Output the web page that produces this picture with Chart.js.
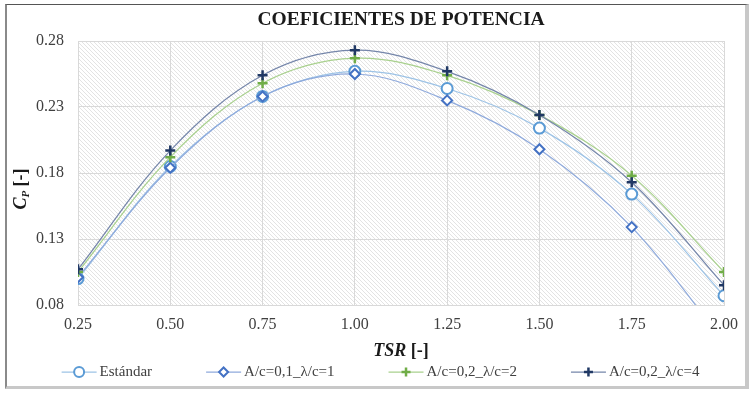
<!DOCTYPE html>
<html lang="es">
<head>
<meta charset="utf-8">
<title>Coeficientes de potencia</title>
<script src="https://cdn.jsdelivr.net/npm/chart.js@4.4.1/dist/chart.umd.min.js"></script>
<style>
  html, body { margin: 0; padding: 0; background: #fff; }
  #wrap { position: relative; width: 755px; height: 393px; }
  #frame {
    position: absolute; left: 5px; top: 4px; width: 738px; height: 381px;
    border-left: 2px solid #8a8a8a; border-top: 1px solid #555;
    border-right: 4px solid #c8c8c8; border-bottom: 3px solid #c8c8c8;
    pointer-events: none;
  }
</style>
</head>
<body>
<div id="wrap">
  <canvas id="cpChart" width="755" height="393"></canvas>
  <div id="frame"></div>
</div>
<script>
// datos
const tsr = [0.25, 0.50, 0.75, 1.00, 1.25, 1.50, 1.75, 2.00];
const estandar = [0.100, 0.185, 0.238, 0.257, 0.244, 0.214, 0.164, 0.087];
const ac01_l1 = [0.101, 0.184, 0.238, 0.255, 0.235, 0.198, 0.139, 0.052];
const ac02_l2 = [0.105, 0.192, 0.248, 0.267, 0.254, 0.224, 0.178, 0.105];
const ac02_l4 = [0.107, 0.197, 0.254, 0.273, 0.257, 0.224, 0.173, 0.095];

const xTicks = [0.25, 0.50, 0.75, 1.00, 1.25, 1.50, 1.75, 2.00];
const yTicks = [0.08, 0.13, 0.18, 0.23, 0.28];

const SERIF = '"Liberation Serif", "Times New Roman", serif';
const pts = (ys) => tsr.map((x, i) => ({ x, y: ys[i] }));

// fondo rayado del area de trazado
function hatch(ctx) {
  const s = 4;
  const c = document.createElement('canvas');
  c.width = s; c.height = s;
  const g = c.getContext('2d');
  g.strokeStyle = '#e3e3e3';
  g.lineWidth = 1;
  g.beginPath();
  for (let k = -1; k <= 1; k++) { g.moveTo(k * s, 0); g.lineTo(k * s + s, s); }
  g.stroke();
  return ctx.createPattern(c, 'repeat');
}

const decor = {
  id: 'decor',
  beforeDraw(chart) {
    const { ctx, chartArea: a } = chart;
    ctx.save();
    ctx.fillStyle = hatch(ctx);
    ctx.fillRect(a.left, a.top, a.right - a.left, a.bottom - a.top);
    ctx.restore();
  },
  afterDraw(chart) {
    const { ctx, chartArea: a } = chart;
    ctx.save();
    ctx.fillStyle = '#1a1a1a';

    // titulo eje Y: C_P [-]
    ctx.translate(a.left - 58, (a.top + a.bottom) / 2 + 16);
    ctx.rotate(-Math.PI / 2);
    ctx.textBaseline = 'alphabetic';
    ctx.font = 'italic bold 18px ' + SERIF;
    const wC = ctx.measureText('C').width;
    ctx.font = 'italic bold 11px ' + SERIF;
    const wP = ctx.measureText('P').width;
    ctx.font = 'bold 18px ' + SERIF;
    const wR = ctx.measureText(' [-]').width;
    let x0 = -(wC + wP + wR) / 2;
    ctx.font = 'italic bold 18px ' + SERIF;
    ctx.fillText('C', x0, 6);
    ctx.font = 'italic bold 11px ' + SERIF;
    ctx.fillText('P', x0 + wC, 9);
    ctx.font = 'bold 18px ' + SERIF;
    ctx.fillText(' [-]', x0 + wC + wP, 6);
    ctx.setTransform(1, 0, 0, 1, 0, 0);

    // titulo eje X: TSR [-]
    ctx.textBaseline = 'middle';
    ctx.font = 'italic bold 18px ' + SERIF;
    const wT = ctx.measureText('TSR').width;
    ctx.font = 'bold 18px ' + SERIF;
    const wB = ctx.measureText(' [-]').width;
    let xt = (a.left + a.right) / 2 - (wT + wB) / 2;
    ctx.font = 'italic bold 18px ' + SERIF;
    ctx.fillText('TSR', xt, 351);
    ctx.font = 'bold 18px ' + SERIF;
    ctx.fillText(' [-]', xt + wT, 351);

    // leyenda
    const lineLen = 35, gap = 3, spacing = 54, ly = 372;
    ctx.font = '15px ' + SERIF;
    const sets = chart.data.datasets;
    const widths = sets.map(d => lineLen + gap + ctx.measureText(d.label).width);
    const total = widths.reduce((s, w) => s + w, 0) + spacing * (sets.length - 1);
    let lx = chart.width / 2 - total / 2 + 3;
    sets.forEach((d, i) => {
      ctx.strokeStyle = d.borderColor;
      ctx.lineWidth = 1.25;
      ctx.beginPath();
      ctx.moveTo(lx, ly); ctx.lineTo(lx + lineLen, ly);
      ctx.stroke();
      ctx.fillStyle = d.pointBackgroundColor;
      ctx.strokeStyle = d.pointBorderColor;
      ctx.lineWidth = d.pointBorderWidth;
      Chart.helpers.drawPoint(ctx, {
        pointStyle: d.pointStyle, radius: d.pointRadius - 0.5,
        borderWidth: d.pointBorderWidth, rotation: 0,
      }, lx + lineLen / 2, ly);
      ctx.fillStyle = '#404040';
      ctx.textBaseline = 'middle';
      ctx.fillText(d.label, lx + lineLen + gap, ly);
      lx += widths[i] + spacing;
    });
    ctx.restore();
  },
};

new Chart(document.getElementById('cpChart'), {
  type: 'line',
  data: {
    datasets: [
      { label: 'Estándar', data: pts(estandar), order: 3,
        borderColor: '#9dc3e6', pointBorderColor: '#5b9bd5', pointBackgroundColor: '#ffffff',
        pointStyle: 'circle', pointRadius: 5.5, pointBorderWidth: 2 },
      { label: 'A/c=0,1_λ/c=1', data: pts(ac01_l1), order: 2,
        borderColor: '#8faadc', pointBorderColor: '#4472c4', pointBackgroundColor: '#ffffff',
        pointStyle: 'rectRot', pointRadius: 5, pointBorderWidth: 2 },
      { label: 'A/c=0,2_λ/c=2', data: pts(ac02_l2), order: 1,
        borderColor: '#a9d18e', pointBorderColor: '#70ad47', pointBackgroundColor: '#70ad47',
        pointStyle: 'cross', pointRadius: 5, pointBorderWidth: 2.5 },
      { label: 'A/c=0,2_λ/c=4', data: pts(ac02_l4), order: 0,
        borderColor: '#7586aa', pointBorderColor: '#203864', pointBackgroundColor: '#203864',
        pointStyle: 'cross', pointRadius: 5, pointBorderWidth: 2.5 },
    ],
  },
  options: {
    responsive: false,
    animation: false,
    datasets: { line: { borderWidth: 1.25, tension: 0.35, fill: false } },
    layout: { padding: { left: 0, right: 31, top: 0, bottom: 31 } },
    plugins: {
      legend: { display: false },
      tooltip: { enabled: false },
      title: {
        display: true, fullSize: false,
        text: 'COEFICIENTES DE POTENCIA',
        color: '#1a1a1a',
        font: { family: SERIF, size: 19.5, weight: 'bold' },
        padding: { top: 8, bottom: 9.6 },
      },
    },
    scales: {
      x: {
        type: 'linear',
        min: xTicks[0], max: xTicks[xTicks.length - 1],
        afterFit: (s) => { s.height = 57; },
        ticks: { stepSize: xTicks[1] - xTicks[0], padding: 10, color: '#404040',
          font: { family: SERIF, size: 16 }, callback: (v) => v.toFixed(2) },
        grid: { color: '#d9d9d9', drawTicks: false },
        border: { color: '#d9d9d9' },
      },
      y: {
        min: yTicks[0], max: yTicks[yTicks.length - 1],
        afterFit: (s) => { s.width = 78; },
        ticks: { stepSize: yTicks[1] - yTicks[0], padding: 14, color: '#404040',
          font: { family: SERIF, size: 16 }, callback: (v) => v.toFixed(2) },
        grid: { color: '#d9d9d9', drawTicks: false },
        border: { color: '#d9d9d9' },
      },
    },
  },
  plugins: [decor],
});
</script>
</body>
</html>
